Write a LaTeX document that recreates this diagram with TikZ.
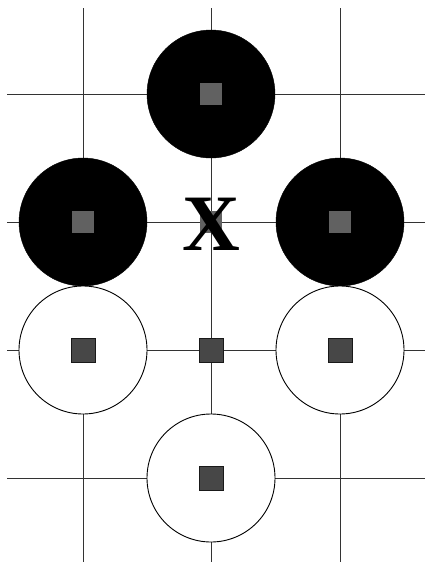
\documentclass[tikz,border=0pt]{standalone}
\usepackage{fontspec}
\newfontfamily\xfont{Liberation Serif}
\begin{document}
\begin{tikzpicture}[x=1pt,y=-1pt,
  gridline/.style={draw=black!80,line width=1pt},
  blackstone/.style={circle,fill=black,draw=black,minimum size=128pt,inner sep=0pt},
  whitestone/.style={circle,fill=white,draw=black,line width=0.9pt,minimum size=128pt,inner sep=0pt},
  greysq/.style={rectangle,fill=black!62,minimum size=22pt,inner sep=0pt},
  darksq/.style={rectangle,fill=black!72,draw=black!90,line width=0.7pt,minimum size=24pt,inner sep=0pt}]
\useasboundingbox (0,0) rectangle (425,562);
% grid
\coordinate (v1t) at (83,8);  \coordinate (v1b) at (83,562);
\coordinate (v2t) at (211,8); \coordinate (v2b) at (211,562);
\coordinate (v3t) at (340,8); \coordinate (v3b) at (340,562);
\coordinate (h1l) at (7,94);  \coordinate (h1r) at (425,94);
\coordinate (h2l) at (7,222); \coordinate (h2r) at (425,222);
\coordinate (h3l) at (7,350); \coordinate (h3r) at (425,350);
\coordinate (h4l) at (7,478); \coordinate (h4r) at (425,478);
\draw[gridline] (v1t) -- (v1b) (v2t) -- (v2b) (v3t) -- (v3b);
\draw[gridline] (h1l) -- (h1r) (h2l) -- (h2r) (h3l) -- (h3r) (h4l) -- (h4r);
% stones
\node[blackstone] (b1) at (211,94) {};
\node[blackstone] (b2) at (83,222) {};
\node[blackstone] (b3) at (340,222) {};
\node[whitestone] (w1) at (83,350) {};
\node[whitestone] (w2) at (340,350) {};
\node[whitestone] (w3) at (211,478) {};
% squares
\node[greysq] (s1) at (b1) {};
\node[greysq] (s2) at (b2) {};
\node[greysq] (s3) at (b3) {};
\node[greysq] (sx) at (211,222) {};
\node[darksq] (s4) at (w1) {};
\node[darksq] (s5) at (w2) {};
\node[darksq] (s6) at (w3) {};
\node[darksq] (s7) at (211,350) {};
% X mark
\node[inner sep=0pt] (xm) at (211,224) {\xfont\bfseries\fontsize{80}{80}\selectfont X};
\end{tikzpicture}
\end{document}
